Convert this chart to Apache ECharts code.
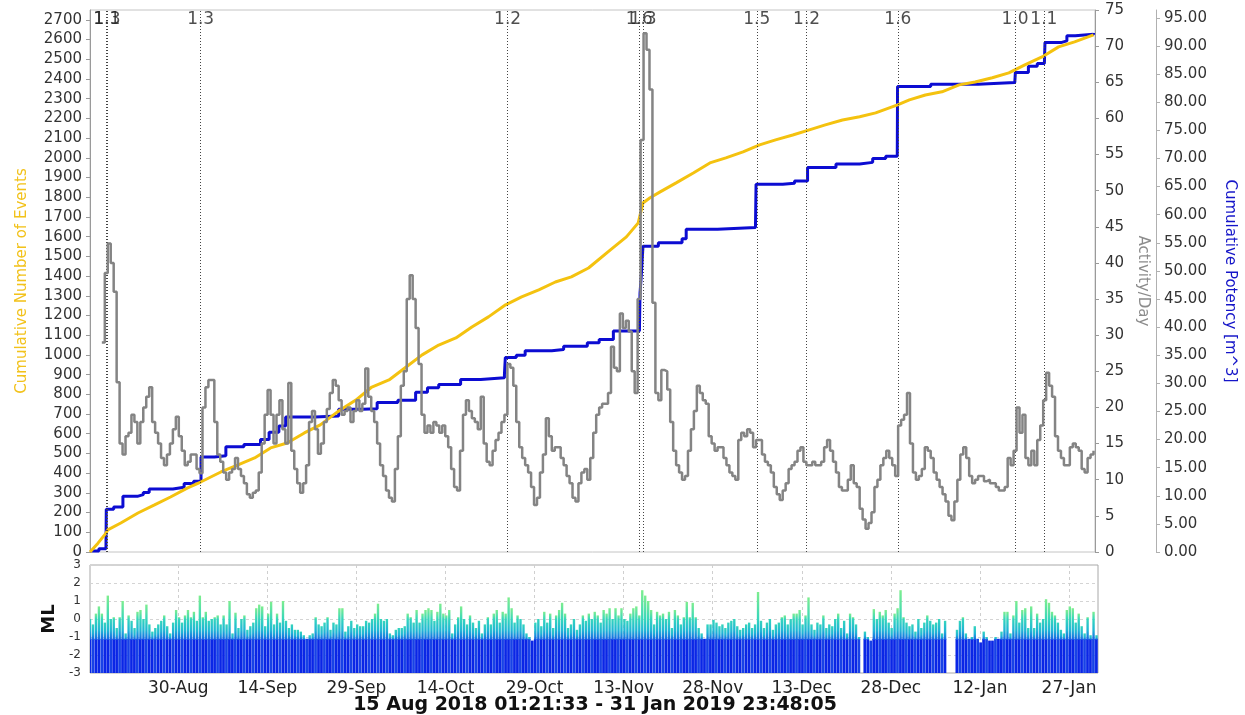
<!DOCTYPE html>
<html>
<head>
<meta charset="utf-8">
<script src="https://cdn.jsdelivr.net/npm/echarts@6/dist/echarts.min.js"></script>
<style>
html,body{margin:0;padding:0;background:#fff;}
#chart{width:1245px;height:715px;}
</style>
</head>
<body>
<div id="chart"></div>
<script>
// ---- x axis: days since 15 Aug 2018 00:00 ----
const X_MIN = 0.13;          // left edge of plots
const X_MAX = 169.88;        // right edge of plots
const FIRST_DAY = 0.13;      // day of the first event (data days below are counted from here)
const tickDays = [15, 30, 45, 60, 75, 90, 105, 120, 135, 150, 165];
const tickLabels = ['30-Aug', '14-Sep', '29-Sep', '14-Oct', '29-Oct', '13-Nov', '28-Nov', '13-Dec', '28-Dec', '12-Jan', '27-Jan'];
const periodTitle = '15 Aug 2018 01:21:33 - 31 Jan 2019 23:48:05';

// ---- cumulative number of events (left axis) ----
const eventDays = [0,1.35,2.7,3.0,5.2,8.1,10.9,13.6,16.5,18.7,22.1,24.9,27.8,30.5,33.3,36.2,38.9,41.8,44.9,47.6,50.5,53.4,56.1,58.9,61.8,64.5,67.3,70.2,72.9,75.8,78.6,81.3,84.2,87.9,90.6,92.6,93.4,94.6,96.3,99.0,101.9,104.7,107.4,110.3,113.1,115.8,118.7,121.5,124.2,127.1,130.0,132.7,136.4,138.4,141.1,143.9,146.8,149.5,152.4,155.2,157.9,160.8,163.6,166.3,169.5];
const eventCounts = [0,45,96,112,147,198,239,279,325,355,406,441,477,528,553,604,645,711,771,837,873,939,1000,1050,1086,1142,1193,1254,1294,1330,1370,1396,1441,1533,1599,1670,1771,1797,1827,1873,1923,1974,2000,2030,2066,2091,2116,2142,2167,2192,2208,2228,2269,2294,2319,2335,2370,2385,2406,2431,2472,2512,2563,2588,2624];

// ---- cumulative potency [m^3] (step) ----
const potencyDays = [0,1.5,2.7,2.75,4,5.56,8,9,10,14,15.9,17.5,18.75,21,22.95,26,28.8,30.25,31.9,33.05,38,42,46,48.5,52,55,57,58.9,62.6,66,70,70.15,72,73.5,78,80,84,86,88.4,92.8,92.9,93.1,93.4,96,100,100.7,106,112.4,112.5,117,119,121.2,126,130,132.2,134.4,136.35,136.4,142,150,156.2,156.3,158.5,160,161.2,161.3,164,165,166.4,169.5];
const potencyVals = [0.2,0.6,1.0,7.6,8.0,9.9,10.2,10.6,11.2,11.5,12.2,12.6,16.9,17.1,18.7,19.1,20.0,21.3,22.4,24.0,24.2,25.4,25.5,26.6,27.0,28.4,29.2,29.8,30.7,31.0,31.6,34.6,35.0,35.8,36.0,36.6,37.2,37.8,39.3,39.6,46.0,49.0,54.4,55.0,55.7,57.4,57.7,58.0,65.4,65.6,66.0,68.4,69.0,69.3,70.0,70.4,70.6,82.8,83.2,83.5,83.6,85.3,86.4,86.9,87.2,90.6,90.9,91.8,92.1,92.3];

// ---- activity per day (step, every half day from day 2.0) ----
const activityStart = 2.0;
const activityStep = 0.5;
const activity = [
29,38.6,42.7,40,36,23.5,15,13.5,16,16.5,
19,18,15,18,20,21.5,22.8,18,16.5,15,
13,12,13.5,15,17,18.7,16,14,12,12.5,
13.5,13.5,11.5,10.9,20,22.8,23.8,23.8,18,13.5,
12.5,11,10,11,11.5,13,11.5,10.5,9.5,8,
7.5,8.2,8.5,11,15,19,22.4,19,15,19,
21,17,15,23.4,14,11.5,9.5,8.2,9.5,12,
18,19.5,17,13.6,15,18,19.8,22,23.8,23,
21,19,19.5,
20,18,19.5,21,19.5,20.5,25.4,21.5,19.5,18,
15,12,10.5,8.5,7.5,7,11.5,16,23,25,
35,38.3,35,31,26,19,16.5,17.5,16.5,18,
17.5,16.5,17.5,16,14.5,11.5,9,8.5,14,19,
21,19.5,18.5,18,17,21.5,15,12.5,12,14,
15.5,16.5,18,19,26,25.5,23,18,14.5,13,
12,11,9,6.5,7.5,11,13.5,18.5,16,14,
14.5,14.5,13,12,10.5,9.5,7.5,7,9.5,11,
11.5,10,13,16.5,19,
20,20.5,20.5,22,28.4,25.5,25,33,31,32,
30.5,25,22,35,57,71.8,69.5,64,34.5,22,
21,25.2,25,22.5,18,14,12,11,10,10.5,
14,17,19.5,23,22,21,20.5,16,15,14,
14.5,14.5,13,12,11,10.5,10,15.5,16.5,16,
17,16.5,14.5,15.5,15.5,13.5,12.5,12,11,9,
8,7.2,8.5,9.5,11.5,12,12.5,14,14.5,12.5,
12,12,12.5,12,12,12.5,14.5,15.5,14,12.5,
11,9,8.5,8.5,10,12,
9.5,9,6,4.5,3.2,4,5.5,9,10,12,
13,14,13,12,10.5,17.5,18.3,19,22,15,
11,10,10.5,11.5,14.5,14,13,11,10,9,
8,7,5,4.4,7,10,13.5,14.5,13,10.5,
9.5,10,10.5,10.5,9.8,10,9.5,9.5,9,8.5,
8.5,9,13,12,14,20,16.5,19,13,12,
14,12,15.5,17.5,21,24.8,23,21.5,16,14,
13,12,12,14.5,15,14.5,14,11.5,11,13,
13.5,14
];

// ---- large events marked on top plot ----
const markerDays = [2.82, 2.88, 18.69, 70.54, 92.76, 93.43, 112.63, 121.04, 136.45, 156.23, 161.11];
const markerLabels = ['1.1', '1.3', '1.3', '1.2', '1.6', '1.3', '1.5', '1.2', '1.6', '1.0', '1.1'];

// ---- ML: largest magnitude in each half-day bin (null = no events) ----
const mlStep = 0.5;
const mlTop = [
0.0,-0.3,0.3,0.7,0.3,-0.2,1.3,0.0,0.1,-0.5,
0.1,1.0,-0.8,0.2,-0.1,-0.5,0.4,0.5,0.0,0.8,
-0.3,-0.7,-0.5,-0.3,-0.1,0.2,-0.4,-0.8,-0.2,0.5,
0.1,-0.2,0.2,0.5,0.1,0.4,-0.1,1.3,0.1,0.4,
-0.1,0.0,0.1,0.2,-0.3,0.2,-0.3,1.0,-0.8,0.35,
-0.5,0.0,0.2,-0.6,-0.4,-0.2,0.6,0.8,0.7,-0.4,
0.3,0.95,-0.3,0.3,-0.2,1.0,-0.1,-0.5,-0.3,-0.6,
-0.6,-0.7,-0.9,-1.1,-0.9,-0.8,0.1,-0.3,-0.4,-0.2,
0.1,-0.6,-0.2,-0.3,0.6,0.6,-0.7,-0.4,-0.1,-0.5,
-0.3,-0.4,-0.4,-0.1,-0.2,0.0,0.3,0.85,0.0,-0.1,
0.0,-0.8,-0.9,-0.6,-0.5,-0.5,-0.4,0.3,0.1,-0.2,
0.5,-0.2,0.3,0.5,0.6,0.5,-0.1,0.4,0.85,0.3,
0.2,0.5,-0.8,-0.3,0.1,0.7,0.0,-0.3,0.2,-0.2,
-0.5,-0.1,-0.8,-0.3,0.1,-0.3,0.3,0.5,-0.2,0.4,
0.3,1.2,0.6,-0.2,0.2,0.0,-0.3,-0.8,-1.0,-1.2,
-0.2,0.0,-0.4,0.4,-0.2,0.3,-0.5,0.2,0.5,0.9,
0.3,-0.5,-0.3,0.0,-0.6,-0.3,0.2,-0.1,0.3,0.0,
0.4,0.2,-0.2,0.5,0.3,0.6,0.0,0.6,0.2,0.6,
0.0,-0.1,0.3,0.6,0.7,0.2,1.6,1.3,1.0,0.5,
-0.3,0.4,0.2,0.3,0.0,0.4,-0.5,0.5,0.2,-0.3,
0.1,0.95,0.1,0.9,0.1,-0.5,-0.8,-1.1,-0.3,-0.3,
-0.05,-0.2,-0.4,-0.3,-0.5,-0.2,-0.1,0.0,-0.4,-0.6,
-0.5,-0.3,-0.2,-0.5,-0.3,1.5,-0.1,-0.5,-0.2,0.0,
-0.6,-0.3,-0.2,0.1,0.2,-0.3,0.0,0.3,0.3,0.5,
-0.3,0.2,1.2,-0.3,-0.6,-0.2,-0.3,0.2,-0.5,-0.3,
-0.4,0.0,0.3,-0.5,-0.1,-0.8,0.3,0.1,-0.3,-1.0,
null,-0.7,-1.0,-1.2,0.55,0.0,0.4,0.2,0.5,-0.2,
-0.5,0.3,0.6,1.6,0.1,-0.2,-0.4,-0.3,-0.7,0.0,
-0.5,-0.2,0.2,-0.1,-0.3,-0.2,0.0,-0.8,-0.1,null,
null,null,-0.6,-0.1,0.1,-0.8,-1.1,-1.0,-0.4,-1.1,
-1.3,-0.7,-1.0,-1.2,-1.2,-1.0,-1.1,-0.7,0.4,0.4,
-0.8,0.2,1.0,-0.2,0.5,0.6,-0.5,0.7,-0.5,0.3,
-0.2,0.0,1.1,0.9,0.4,0.2,-0.2,-0.6,-0.8,0.5,
0.7,0.6,-0.2,0.3,-0.4,-0.8,0.1,-0.9,0.4,-0.9
];

// ---------------- build ----------------
const FONT = 'DejaVu Sans';
const ML_BASE = -1.1;

const eventData = eventDays.map((d, i) => [d + FIRST_DAY, eventCounts[i]]);
const potencyData = potencyDays.map((d, i) => [d + FIRST_DAY, potencyVals[i]]);
const activityData = activity.map((v, i) => [activityStart + i * activityStep + FIRST_DAY, v]);
const markerData = markerDays.map(d => [d + FIRST_DAY, 2700]);
const mlData = [];
mlTop.forEach((v, i) => { if (v !== null) mlData.push([i * mlStep + FIRST_DAY, v]); });

function renderML(params, api) {
  const x = api.value(0), v = api.value(1);
  const pB = api.coord([x, -3]);
  const pT = api.coord([x, v]);
  const yBase = api.coord([x, ML_BASE])[1];
  const y0 = api.coord([x, 0])[1];
  const bw = api.size([mlStep, 0])[0];
  const children = [];
  const baseTop = Math.max(pT[1], yBase);
  children.push({
    type: 'rect',
    shape: { x: pB[0] - bw * 0.5, y: baseTop, width: bw * 0.92, height: pB[1] - baseTop },
    style: { fill: params.dataIndex % 3 === 1 ? '#1842e6' : '#0a26e6' }
  });
  if (v > ML_BASE) {
    const h = yBase - pT[1];
    const off0 = Math.min(1, Math.max(0, (yBase - y0) / h));
    const fill = new echarts.graphic.LinearGradient(0, 1, 0, 0, [
      { offset: 0, color: '#1560e4' },
      { offset: Math.max(0, off0 * 0.45), color: '#1fb4d6' },
      { offset: off0, color: '#34d6bc' },
      { offset: 1, color: off0 >= 1 ? '#34d6bc' : '#7eee8e' }
    ]);
    const w = bw * 0.8;
    children.push({
      type: 'rect',
      shape: { x: pT[0] - w / 2, y: pT[1], width: w, height: h + 1 },
      style: { fill: fill }
    });
  }
  return { type: 'group', children: children };
}

const chart = echarts.init(document.getElementById('chart'), null, { renderer: 'canvas' });
const axisGray = '#9a9a9a';
const option = {
  animation: false,
  backgroundColor: '#ffffff',
  textStyle: { fontFamily: FONT },
  grid: [
    { left: 90, top: 10, width: 1008, height: 542, show: true, borderColor: '#c4c4c4', borderWidth: 1, backgroundColor: 'transparent' },
    { left: 90, top: 565, width: 1008, height: 108, show: true, borderColor: '#a8a8a8', borderWidth: 1, backgroundColor: 'transparent' }
  ],
  xAxis: [
    { gridIndex: 0, type: 'value', min: X_MIN, max: X_MAX, show: false },
    {
      gridIndex: 1, type: 'value', min: X_MIN, max: X_MAX,
      axisLine: { show: false },
      axisTick: { show: false, customValues: tickDays },
      axisLabel: {
        customValues: tickDays, fontSize: 17, color: '#222', margin: 7, fontFamily: FONT,
        formatter: v => { const k = tickDays.indexOf(v); return k >= 0 ? tickLabels[k] : ''; }
      },
      splitLine: { show: true, lineStyle: { type: [3, 3], color: '#cfcfcf', width: 1 } }
    }
  ],
  yAxis: [
    {
      gridIndex: 0, type: 'value', min: 0, max: 2750, interval: 100, position: 'left',
      axisLine: { show: true, lineStyle: { color: axisGray } },
      axisTick: { show: true, length: 4, lineStyle: { color: axisGray } },
      axisLabel: { fontSize: 15, color: '#333', margin: 8, showMaxLabel: false, fontFamily: FONT, formatter: v => String(v) },
      splitLine: { show: false },
      name: 'Cumulative Number of Events', nameLocation: 'middle', nameGap: 60,
      nameTextStyle: { color: '#f2c21b', fontSize: 15, fontFamily: FONT }
    },
    {
      gridIndex: 0, type: 'value', min: 0, max: 75, interval: 5, position: 'right',
      axisLine: { show: true, lineStyle: { color: axisGray } },
      axisTick: { show: true, length: 4, lineStyle: { color: axisGray } },
      axisLabel: { fontSize: 15, color: '#333', margin: 10, fontFamily: FONT, formatter: v => String(v) },
      splitLine: { show: false },
      name: 'Activity/Day', nameLocation: 'middle', nameGap: 36, nameRotate: -90,
      nameTextStyle: { color: '#8c8c8c', fontSize: 15, fontFamily: FONT }
    },
    {
      gridIndex: 0, type: 'value', min: 0, max: 96.4, interval: 5, position: 'right', offset: 61,
      axisLine: { show: true, lineStyle: { color: '#b0b0b0' } },
      axisTick: { show: true, length: 4, lineStyle: { color: '#b0b0b0' } },
      axisLabel: { fontSize: 15, color: '#333', margin: 8, showMaxLabel: false, fontFamily: FONT, formatter: v => v.toFixed(2) },
      splitLine: { show: false },
      name: 'Cumulative Potency [m^3]', nameLocation: 'middle', nameGap: 66, nameRotate: -90,
      nameTextStyle: { color: '#1515c8', fontSize: 15, fontFamily: FONT }
    },
    {
      gridIndex: 1, type: 'value', min: -3, max: 3, interval: 1, position: 'left',
      axisLine: { show: false },
      axisTick: { show: false },
      axisLabel: { fontSize: 12, color: '#333', margin: 9, fontFamily: FONT },
      splitLine: { show: true, lineStyle: { type: [3, 3], color: '#d4d4d4', width: 1 } },
      name: 'ML', nameLocation: 'middle', nameGap: 30,
      nameTextStyle: { color: '#111', fontSize: 18, fontWeight: 'bold', fontFamily: FONT }
    }
  ],
  series: [
    {
      name: 'markers', type: 'scatter', xAxisIndex: 0, yAxisIndex: 0, z: 1,
      data: markerData, symbolSize: 1, itemStyle: { color: 'rgba(0,0,0,0)' }, silent: true,
      label: { show: true, position: 'inside', formatter: p => markerLabels[p.dataIndex], fontSize: 17, color: '#222', fontFamily: FONT },
      markLine: {
        silent: true, symbol: 'none', animation: false,
        lineStyle: { type: [1, 2], color: '#444', width: 1 },
        label: { show: false },
        data: markerDays.map(d => ({ xAxis: d + FIRST_DAY }))
      }
    },
    {
      name: 'Cumulative Potency', type: 'line', xAxisIndex: 0, yAxisIndex: 2, z: 3,
      data: potencyData, step: 'end', symbol: 'none', lineStyle: { color: '#0c0cd2', width: 3 }
    },
    {
      name: 'Cumulative Number of Events', type: 'line', xAxisIndex: 0, yAxisIndex: 0, z: 4,
      data: eventData, symbol: 'none', lineStyle: { color: '#f4c20f', width: 3 }
    },
    {
      name: 'Activity/Day', type: 'line', xAxisIndex: 0, yAxisIndex: 1, z: 5,
      data: activityData, step: 'end', symbol: 'none', lineStyle: { color: '#848484', width: 2.5 }
    },
    {
      name: 'ML', type: 'custom', xAxisIndex: 1, yAxisIndex: 3, clip: true,
      data: mlData, renderItem: renderML, silent: true
    }
  ],
  graphic: [
    {
      type: 'text', x: 595, y: 705,
      style: { text: periodTitle, textAlign: 'center', textVerticalAlign: 'middle', font: 'bold 19px "DejaVu Sans"', fill: '#111' }
    }
  ]
};
chart.setOption(option);
</script>
</body>
</html>
